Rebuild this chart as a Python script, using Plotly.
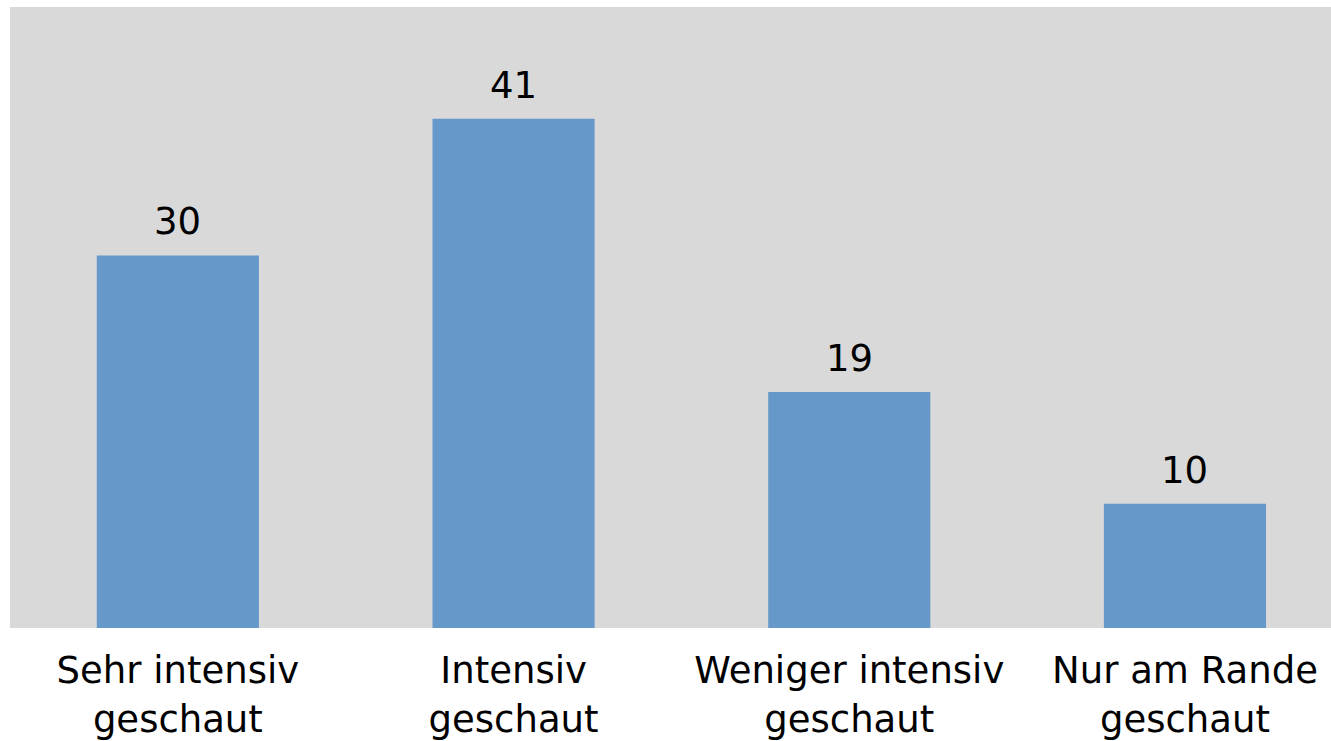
import plotly.graph_objects as go

categories = ["Sehr intensiv<br>geschaut", "Intensiv<br>geschaut", "Weniger intensiv<br>geschaut", "Nur am Rande<br>geschaut"]
values = [30, 41, 19, 10]
value_labels = ["30", "41", "19", "10"]

xpos = list(range(len(categories)))

fig = go.Figure()
fig.add_trace(go.Bar(
    x=xpos,
    y=values,
    marker=dict(color="#6699CA", line=dict(width=0)),
    width=0.483,
    hoverinfo="skip",
))

for xi, v, lab in zip(xpos, values, value_labels):
    fig.add_annotation(
        x=xi, y=v, xref="x", yref="y",
        text=lab, showarrow=False,
        yanchor="bottom", xanchor="center",
        yshift=10,
        font=dict(family="DejaVu Sans", size=37, color="#000000"),
    )

fig.update_layout(
    width=1331, height=741,
    margin=dict(l=10, r=0, t=7, b=113, pad=0, autoexpand=False),
    paper_bgcolor="#FFFFFF",
    plot_bgcolor="#D9D9D9",
    showlegend=False,
    font=dict(family="DejaVu Sans", size=37, color="#000000"),
    xaxis=dict(
        range=[-0.5, 3.435],
        tickmode="array",
        tickvals=xpos,
        ticktext=categories,
        showgrid=False, zeroline=False, showline=False,
        ticks="outside", ticklen=10, tickcolor="rgba(0,0,0,0)",
        tickfont=dict(family="DejaVu Sans", size=37, color="#000000"),
        automargin=False,
        fixedrange=True,
    ),
    yaxis=dict(
        range=[0, 50],
        showgrid=False, zeroline=False, showline=False,
        showticklabels=False, ticks="",
        automargin=False,
        fixedrange=True,
    ),
)

fig.write_html("out.html", config={"displayModeBar": False})
